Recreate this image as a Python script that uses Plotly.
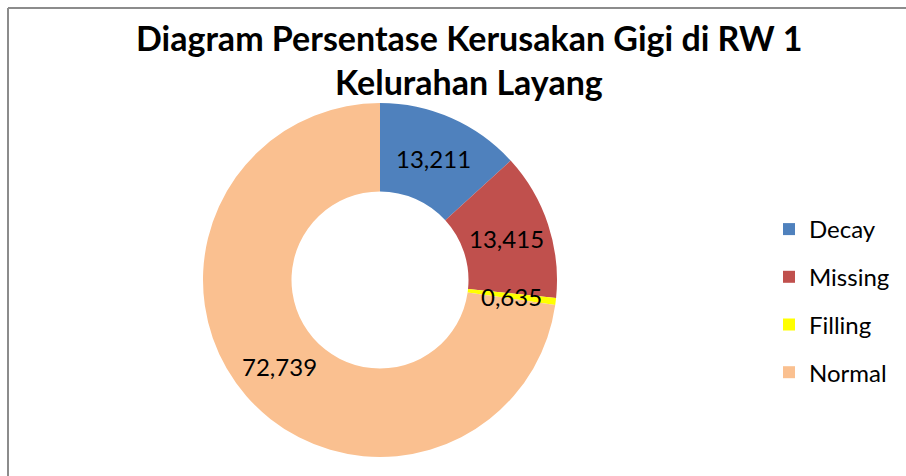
import math
import plotly.graph_objects as go

categories = ["Decay", "Missing", "Filling", "Normal"]
values = [13.211, 13.415, 0.635, 72.739]
colors = ["#4F81BD", "#C0504D", "#FFFF00", "#FAC090"]
title_lines = ["Diagram Persentase Kerusakan Gigi di RW 1", "Kelurahan Layang"]

W, H = 906, 476
cx_px, cy_px, r_px = 380, 280, 177
hole = 0.5
dom_x = [(cx_px - r_px) / W, (cx_px + r_px) / W]
dom_y = [(H - cy_px - r_px) / H, (H - cy_px + r_px) / H]

fig = go.Figure()
fig.add_trace(go.Pie(
    labels=categories, values=values, sort=False, direction="clockwise",
    rotation=0, hole=hole, marker=dict(colors=colors, line=dict(width=0)),
    textinfo="none", showlegend=False, domain=dict(x=dom_x, y=dom_y),
    hoverinfo="label+value",
))

# legend entries
for c, col in zip(categories, colors):
    fig.add_trace(go.Scatter(
        x=[None], y=[None], mode="markers", name=c,
        marker=dict(symbol="square", size=15, color=col),
        legendgroup=c, showlegend=True,
    ))

# data labels at ring middle, computed from values
total = sum(values)
cum = 0.0
r_mid = r_px * (1 + hole) / 2
for v in values:
    mid = (cum + v / 2) / total * 2 * math.pi
    cum += v
    x_px = cx_px + r_mid * math.sin(mid)
    y_px = cy_px - r_mid * math.cos(mid)
    fig.add_annotation(
        x=x_px / W, y=1 - y_px / H, xref="paper", yref="paper",
        text=f"{v:.3f}".replace(".", ","), showarrow=False,
        font=dict(family="Lato", size=24, color="#000000"),
        xanchor="center", yanchor="middle",
    )

# title lines
for line, ypx in zip(title_lines, [38, 81]):
    fig.add_annotation(
        x=469 / W, y=1 - ypx / H, xref="paper", yref="paper", text=line,
        showarrow=False, xanchor="center", yanchor="middle",
        font=dict(family="Lato", size=34, color="#000000", weight="bold"),
    )

border = dict(color="#8C8C8C", width=2)
fig.update_layout(
    width=W, height=H,
    margin=dict(l=0, r=0, t=0, b=0, autoexpand=False),
    paper_bgcolor="white", plot_bgcolor="white",
    xaxis=dict(visible=False), yaxis=dict(visible=False),
    legend=dict(x=769 / W, y=1 - 207 / H, xanchor="left", yanchor="top",
                font=dict(family="Lato", size=24, color="#000000"),
                tracegroupgap=13.5, itemsizing="constant", bgcolor="rgba(0,0,0,0)"),
    shapes=[
        dict(type="line", xref="paper", yref="paper", x0=8 / W, x1=1, y0=1 - 8 / H, y1=1 - 8 / H,
             line=border, layer="above"),
        dict(type="line", xref="paper", yref="paper", x0=8 / W, x1=8 / W, y0=0, y1=1 - 8 / H,
             line=border, layer="above"),
    ],
)

fig.write_html(
    "out.html",
    config={"displayModeBar": False},
    post_script="document.body.style.margin='0';document.body.style.overflow='hidden';",
)
